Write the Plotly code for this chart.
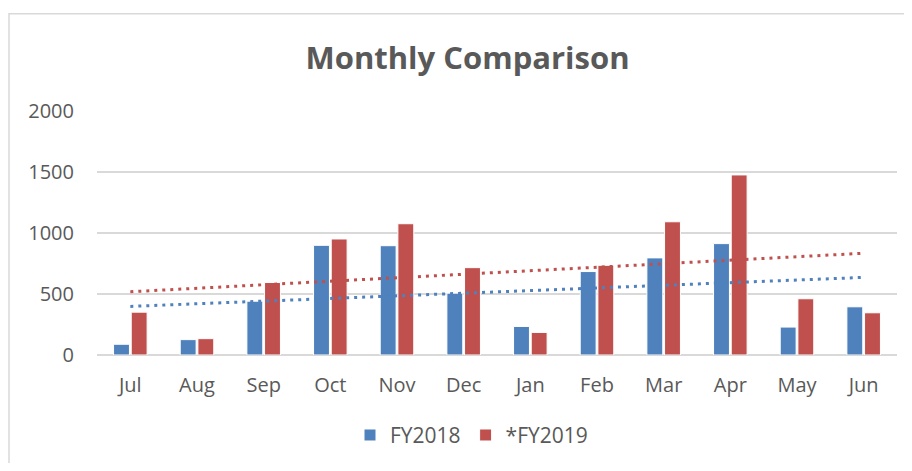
import numpy as np
import plotly.graph_objects as go

months = ["Jul", "Aug", "Sep", "Oct", "Nov", "Dec", "Jan", "Feb", "Mar", "Apr", "May", "Jun"]
fy2018 = [88, 126, 441, 899, 896, 507, 234, 684, 796, 913, 229, 395]
fy2019 = [351, 134, 594, 951, 1076, 716, 185, 735, 1092, 1476, 461, 346]
y_ticks = [0, 500, 1000, 1500, 2000]

BLUE = "#4F81BD"
RED = "#C0504D"
GRAY = "#595959"
FONT = "Open Sans"

idx = np.arange(len(months))
trend18 = np.polyval(np.polyfit(idx, fy2018, 1), idx)
trend19 = np.polyval(np.polyfit(idx, fy2019, 1), idx)

fig = go.Figure()
fig.add_trace(go.Bar(x=months, y=fy2018, name="FY2018", marker=dict(color=BLUE, line=dict(color="white", width=1))))
fig.add_trace(go.Bar(x=months, y=fy2019, name="*FY2019", marker=dict(color=RED, line=dict(color="white", width=1))))
fig.add_trace(go.Scatter(x=months, y=trend18, mode="lines", showlegend=False, hoverinfo="skip",
                         line=dict(color=BLUE, width=3, dash="3px,5px")))
fig.add_trace(go.Scatter(x=months, y=trend19, mode="lines", showlegend=False, hoverinfo="skip",
                         line=dict(color=RED, width=3, dash="3px,5px")))

# page body has an 8px margin; compensate so the plot lands where the reference has it
OFF = 8
W, H = 912 - 2 * OFF, 471 - 2 * OFF
L, T = 97 - OFF, 111 - OFF
pw, ph = 800, 246
R = W - L - pw
B = H - T - ph
axis_y = T + ph  # figure y of the zero line

fig.update_layout(
    width=W, height=H,
    margin=dict(l=L, r=R, t=T, b=B),
    paper_bgcolor="white", plot_bgcolor="white",
    font=dict(family=FONT, color=GRAY, size=20),
    title=dict(text="<b>Monthly Comparison</b>", x=(467.5 - OFF) / W, xanchor="center",
               y=1 - (58 - OFF) / H, yanchor="middle", font=dict(size=31, color=GRAY, family=FONT)),
    barmode="group", bargap=0.47, bargroupgap=0.1,
    showlegend=True,
    legend=dict(orientation="h", x=(471.5 - OFF - L) / pw, xanchor="center",
                y=(axis_y - (438 - OFF)) / ph, yanchor="middle",
                font=dict(size=21, color=GRAY), itemwidth=30, traceorder="normal"),
    xaxis=dict(showgrid=False, showline=False, ticks="outside", ticklen=12, tickcolor="white",
               tickfont=dict(size=20, color=GRAY)),
    yaxis=dict(range=[0, 2000], tickvals=y_ticks, showgrid=True, gridcolor="#D9D9D9", gridwidth=1.5,
               zeroline=True, zerolinecolor="#D9D9D9", zerolinewidth=1.5,
               ticks="outside", ticklen=18, tickcolor="white", tickfont=dict(size=20, color=GRAY)),
    shapes=[dict(type="rect", xref="paper", yref="paper",
                 x0=(1 - L) / pw, x1=(W + 20 - L) / pw,
                 y0=(axis_y - (H + 20)) / ph, y1=(axis_y - (13 - OFF)) / ph,
                 line=dict(color="#D9D9D9", width=1.5), fillcolor="rgba(0,0,0,0)", layer="below")],
)

fig.write_html("out.html")
